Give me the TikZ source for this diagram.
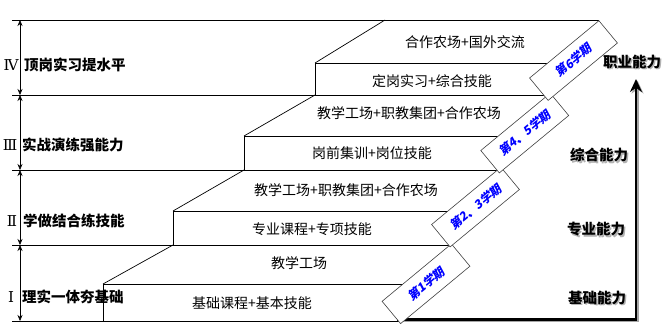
\documentclass[tikz,border=0pt]{standalone}
\usepackage{fontspec}
\newfontfamily\cjk{Noto Sans CJK SC}
\newfontfamily\ribfont[FakeSlant=0.2]{Noto Sans CJK SC}
\newfontfamily\romfont{DejaVu Serif}
\usetikzlibrary{arrows.meta}
\begin{document}
\begin{tikzpicture}[x=1pt,y=-1pt,
  edge/.style={line width=0.7pt, draw=black},
  steptext/.style={font=\cjk\fontsize{14}{16}\selectfont, inner sep=0pt},
  lefttext/.style={font=\cjk\bfseries\fontsize{14.5}{16}\selectfont, anchor=west, inner sep=0pt},
  romtext/.style={font=\romfont\fontsize{15}{17}\selectfont, inner sep=0pt},
  ribbonbox/.style={draw=black!75, fill=white, line width=0.6pt},
  ribbontext/.style={rotate=39.6, inner sep=0pt, text=blue, font=\ribfont\bfseries\fontsize{12}{14}\selectfont},
  ability/.style={font=\cjk\bfseries\fontsize{14.5}{16}\selectfont, inner sep=0pt},
  abshadow/.style={ability, text=black!30},
  levelarrow/.style={line width=0.6pt, {Stealth[length=6pt,width=5pt]}-{Stealth[length=6pt,width=5pt]}},
  bigarrow/.style={line width=2.5pt, -{Stealth[length=13pt,width=12pt]}},
]
\useasboundingbox (0,0) rectangle (671,333);
\fill[white] (0,0) rectangle (671,333);

% level lines (back edges of the treads, extended to the left)
\draw[edge] (12,20) -- (599,20);
\draw[edge] (12,95) -- (548,95);
\draw[edge] (12,170) -- (498,170);
\draw[edge] (12,245) -- (450,245);
\draw[edge] (12,321) -- (400,321);

% step 1
\draw[edge] (405,284) -- (103,284) -- (103,321);
\draw[edge] (103,284) -- (173,245);
% step 2
\draw[edge] (450,211) -- (173,211) -- (173,245);
\draw[edge] (173,211) -- (244,170);
% step 3
\draw[edge] (500,136) -- (244,136) -- (244,170);
\draw[edge] (244,136) -- (315,95);
% step 4
\draw[edge] (549,63) -- (315,63) -- (315,95);
\draw[edge] (315,63) -- (385,20);

% step texts
\node[steptext] (s1a) at (252,303) {基础课程+基本技能};
\node[steptext] (s1b) at (299,263) {教学工场};
\node[steptext] (s2a) at (312,229) {专业课程+专项技能};
\node[steptext] (s2b) at (346,190) {教学工场+职教集团+合作农场};
\node[steptext] (s3a) at (372,153) {岗前集训+岗位技能};
\node[steptext] (s3b) at (409,113) {教学工场+职教集团+合作农场};
\node[steptext] (s4a) at (432,81) {定岗实习+综合技能};
\node[steptext] (s4b) at (465,42) {合作农场+国外交流};

% big arrow with shadow
\coordinate (ba0) at (397,319.5);
\coordinate (ba1) at (636,319.5);
\coordinate (ba2) at (636,79);
\coordinate (bs0) at (398.5,321);
\coordinate (bs1) at (637.5,321);
\coordinate (bs2) at (637.5,80.5);
\draw[bigarrow, black!35] (bs0) -- (bs1) -- (bs2);
\draw[bigarrow] (ba0) -- (ba1) -- (ba2);

% ribbons
\draw[ribbonbox] (451.4,243.9) -- (469.9,266.2) -- (400.6,323.6) -- (382.1,301.3) -- cycle;
\draw[ribbonbox] (500.9,167.2) -- (519.4,189.5) -- (450.1,246.9) -- (431.6,224.5) -- cycle;
\draw[ribbonbox] (550.2,93.2) -- (568.7,115.5) -- (499.3,172.9) -- (480.8,150.5) -- cycle;
\draw[ribbonbox] (598.9,20.7) -- (617.4,43.0) -- (548.1,100.4) -- (529.6,78.0) -- cycle;
\node[ribbontext] (r1) at (426,283.75) {第1学期};
\node[ribbontext] (r23) at (475.5,207) {第2、3学期};
\node[ribbontext] (r45) at (524.75,133) {第4、5学期};
\node[ribbontext] (r6) at (573.5,60.5) {第6学期};

% left level arrows
\coordinate (a0) at (20,20);
\coordinate (a1) at (20,95);
\coordinate (a2) at (20,170);
\coordinate (a3) at (20,245);
\coordinate (a4) at (20,321);
\draw[levelarrow] (a0) -- (a1);
\draw[levelarrow] (a1) -- (a2);
\draw[levelarrow] (a2) -- (a3);
\draw[levelarrow] (a3) -- (a4);

% left labels
\node[romtext] (n4) at (11,65) {Ⅳ};
\node[romtext] (n3) at (10,145) {Ⅲ};
\node[romtext] (n2) at (12,221) {Ⅱ};
\node[romtext] (n1) at (11,297) {Ⅰ};
\node[lefttext] (l4) at (24,65) {顶岗实习提水平};
\node[lefttext] (l3) at (22,145) {实战演练强能力};
\node[lefttext] (l2) at (23,221) {学做结合练技能};
\node[lefttext] (l1) at (22,297) {理实一体夯基础};

% ability labels with shadow
\node[abshadow] (c4s) at (633.5,63.5) {职业能力};
\node[ability] (c4) at (632,62) {职业能力};
\node[abshadow] (c3s) at (600.5,156.5) {综合能力};
\node[ability] (c3) at (599,155) {综合能力};
\node[abshadow] (c2s) at (597.5,230.5) {专业能力};
\node[ability] (c2) at (596,229) {专业能力};
\node[abshadow] (c1s) at (598.5,299.5) {基础能力};
\node[ability] (c1) at (597,298) {基础能力};
\end{tikzpicture}
\end{document}
